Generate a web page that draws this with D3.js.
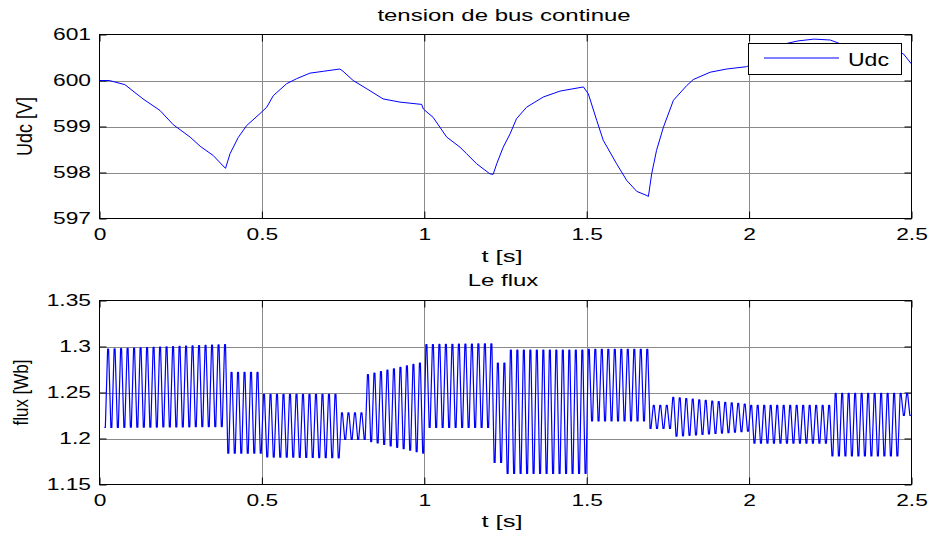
<!DOCTYPE html>
<html>
<head>
<meta charset="utf-8">
<script src="https://cdn.jsdelivr.net/npm/d3@7"></script>
<style>
  body { margin: 0; background: #fff; }
  svg { display: block; font-family: "Liberation Sans", Arial, sans-serif; }
</style>
</head>
<body>
<div id="chart"></div>
<script>
// tension de bus continue (Udc)
const udcTime = [0, 0.03, 0.078, 0.134, 0.186, 0.227, 0.279, 0.31, 0.35, 0.381, 0.388, 0.402, 0.427, 0.453,
  0.494, 0.515, 0.535, 0.576, 0.607, 0.648, 0.689, 0.74, 0.75, 0.781, 0.823, 0.873, 0.925, 0.992, 0.997,
  1.027, 1.069, 1.11, 1.13, 1.161, 1.202, 1.212, 1.223, 1.243, 1.264, 1.284, 1.315, 1.366, 1.418, 1.49,
  1.505, 1.531, 1.551, 1.592, 1.623, 1.654, 1.685, 1.69, 1.7, 1.715, 1.736, 1.767, 1.808, 1.828, 1.88,
  1.931, 1.992, 2.05, 2.1, 2.15, 2.2, 2.25, 2.28, 2.35, 2.45, 2.475, 2.5];
const udcValue = [600.0, 600.0, 599.91, 599.6, 599.35, 599.04, 598.77, 598.57, 598.37, 598.14, 598.09, 598.41,
  598.76, 599.02, 599.28, 599.42, 599.67, 599.93, 600.04, 600.16, 600.2, 600.25, 600.2, 600.0, 599.82, 599.6,
  599.53, 599.48, 599.38, 599.2, 598.77, 598.55, 598.41, 598.19, 597.97, 597.96, 598.19, 598.55, 598.84,
  599.17, 599.42, 599.64, 599.77, 599.86, 599.71, 599.13, 598.7, 598.19, 597.83, 597.59, 597.5, 597.48,
  597.97, 598.48, 598.98, 599.57, 599.89, 600.02, 600.18, 600.25, 600.3, 600.5, 600.78, 600.86, 600.9,
  600.88, 600.8, 600.72, 600.63, 600.58, 600.36];

// Le flux: oscillation envelope per interval (start/end of upper and lower peaks)
const fluxStart   = [0.015, 0.388, 0.497, 0.742, 0.818, 0.997, 1.212, 1.25, 1.497, 1.686, 1.757, 1.998, 2.252, 2.47];
const fluxEnd     = [0.388, 0.497, 0.742, 0.818, 0.997, 1.212, 1.25, 1.497, 1.686, 1.757, 1.998, 2.252, 2.47, 2.5];
const fluxHighA   = [1.297, 1.272, 1.248, 1.228, 1.269, 1.302, 1.282, 1.296, 1.297, 1.236, 1.245, 1.236, 1.249, 1.249];
const fluxHighB   = [1.302, 1.272, 1.248, 1.228, 1.283, 1.303, 1.282, 1.296, 1.297, 1.236, 1.237, 1.236, 1.249, 1.249];
const fluxLowA    = [1.212, 1.184, 1.18, 1.199, 1.198, 1.212, 1.174, 1.162, 1.219, 1.211, 1.202, 1.195, 1.181, 1.225];
const fluxLowB    = [1.213, 1.184, 1.179, 1.199, 1.184, 1.212, 1.174, 1.162, 1.219, 1.211, 1.208, 1.195, 1.181, 1.225];
const fluxHalfPeriod = 0.01;
const fluxPeakWidth = 0.003;

const timeTicks = [0, 0.5, 1, 1.5, 2, 2.5];
const udcTicks = [597, 598, 599, 600, 601];
const fluxTicks = [1.15, 1.2, 1.25, 1.3, 1.35];

const width = 933, height = 539;
const svg = d3.select("#chart").append("svg")
  .attr("width", width)
  .attr("height", height);

const x = d3.scaleLinear().domain([0, 2.5]).range([99.5, 911.5]);
const yUdc = d3.scaleLinear().domain([597, 601]).range([218.5, 34.5]);
const yFlux = d3.scaleLinear().domain([1.15, 1.35]).range([484.5, 300.5]);

// peaks of the flux, alternating low/high on the half period grid, each with a short flat top
const fluxPoints = [];
for (let k = 0; ; k++) {
  const t = fluxStart[0] + k * fluxHalfPeriod;
  if (t > 2.5) break;
  let i = fluxStart.findIndex((s, j) => t >= s && t < fluxEnd[j]);
  if (i < 0) i = fluxStart.length - 1;
  const f = (t - fluxStart[i]) / (fluxEnd[i] - fluxStart[i]);
  const hi = fluxHighA[i] + f * (fluxHighB[i] - fluxHighA[i]);
  const lo = fluxLowA[i] + f * (fluxLowB[i] - fluxLowA[i]);
  const v = k % 2 === 0 ? lo : hi;
  fluxPoints.push({ t: t, v: v });
  if (t + fluxPeakWidth <= 2.5) fluxPoints.push({ t: t + fluxPeakWidth, v: v });
}

function stretchText(sel, sx) {
  sel.each(function () {
    const t = d3.select(this);
    const px = +t.attr("x") || 0;
    t.attr("x", px / sx).attr("transform", `scale(${sx},1)`);
  });
}

function label(text, px, py, size, sx, anchor, rotate) {
  const g = svg.append("g")
    .attr("transform", `translate(${px},${py}) scale(${sx},1)` + (rotate ? " rotate(-90)" : ""));
  g.append("text")
    .attr("text-anchor", anchor || "middle")
    .attr("font-size", size)
    .attr("fill", "#000")
    .text(text);
}

function build_panel(y, yTicks, fmt) {
  const [x0, x1] = x.range();
  const [yb, yt] = y.range();

  const grid = svg.append("g").attr("stroke", "#8a8a8a").attr("stroke-width", 1);
  grid.selectAll(".gx")
    .data(timeTicks.slice(1, -1))
    .enter().append("line")
    .attr("x1", (d) => Math.round(x(d)) + 0.5).attr("x2", (d) => Math.round(x(d)) + 0.5)
    .attr("y1", yt).attr("y2", yb);
  grid.selectAll(".gy")
    .data(yTicks.slice(1, -1))
    .enter().append("line")
    .attr("x1", x0).attr("x2", x1)
    .attr("y1", (d) => Math.round(y(d)) + 0.5).attr("y2", (d) => Math.round(y(d)) + 0.5);

  const bottom = svg.append("g")
    .attr("transform", `translate(0,${yb})`)
    .call(d3.axisBottom(x).tickValues(timeTicks).tickSize(-7).tickSizeOuter(0).tickPadding(10)
      .tickFormat(d3.format("")));
  const left = svg.append("g")
    .attr("transform", `translate(${x0},0)`)
    .call(d3.axisLeft(y).tickValues(yTicks).tickSize(-7).tickSizeOuter(0).tickPadding(8.5)
      .tickFormat(fmt));
  svg.append("g")
    .attr("transform", `translate(0,${yt})`)
    .call(d3.axisTop(x).tickValues(timeTicks).tickSize(-7).tickSizeOuter(0).tickFormat(""));
  svg.append("g")
    .attr("transform", `translate(${x1},0)`)
    .call(d3.axisRight(y).tickValues(yTicks).tickSize(-7).tickSizeOuter(0).tickFormat(""));

  svg.selectAll(".domain").remove();
  svg.selectAll(".tick line").attr("stroke", "#000");
  [bottom, left].forEach((g) => {
    g.selectAll("text")
      .attr("font-size", 16.5)
      .attr("fill", "#000")
      .attr("font-family", '"Liberation Sans", Arial, sans-serif')
      .call(stretchText, 1.38);
  });
}

function draw_box(y) {
  const [x0, x1] = x.range();
  const [yb, yt] = y.range();
  svg.append("rect")
    .attr("x", x0).attr("y", yt)
    .attr("width", x1 - x0).attr("height", yb - yt)
    .attr("fill", "none").attr("stroke", "#000").attr("stroke-width", 1);
}

// top panel
build_panel(yUdc, udcTicks, d3.format("d"));
svg.append("path")
  .datum(udcTime.map((t, i) => ({ t: t, v: udcValue[i] })))
  .attr("fill", "none")
  .attr("stroke", "#0000ff")
  .attr("stroke-width", 1)
  .attr("d", d3.line().x((d) => x(d.t)).y((d) => yUdc(d.v)));
draw_box(yUdc);

// legend
const legend = svg.append("g");
legend.append("rect")
  .attr("x", 748.5).attr("y", 43.5).attr("width", 153).attr("height", 31)
  .attr("fill", "#fff").attr("stroke", "#000").attr("stroke-width", 1);
legend.append("line")
  .attr("x1", 764).attr("x2", 839).attr("y1", 58).attr("y2", 58)
  .attr("stroke", "#0000ff").attr("stroke-width", 1);
label("Udc", 848, 66, 18, 1.28, "start");

// bottom panel
build_panel(yFlux, fluxTicks, d3.format(""));
svg.append("path")
  .datum(fluxPoints)
  .attr("fill", "none")
  .attr("stroke", "#0000ff")
  .attr("stroke-width", 1.2)
  .attr("stroke-linejoin", "round")
  .attr("d", d3.line().x((d) => x(d.t)).y((d) => yFlux(d.v)));
draw_box(yFlux);

// titles and axis labels
label("tension de bus continue", 504, 21, 16, 1.5);
label("t [s]", 502, 262, 16.5, 1.55);
label("Udc [V]", 32, 126.5, 18, 1.2, "middle", true);
label("Le flux", 503, 286, 16, 1.5);
label("t [s]", 502, 527, 16.5, 1.55);
label("flux [Wb]", 28, 392.5, 17, 1.2, "middle", true);
</script>
</body>
</html>
